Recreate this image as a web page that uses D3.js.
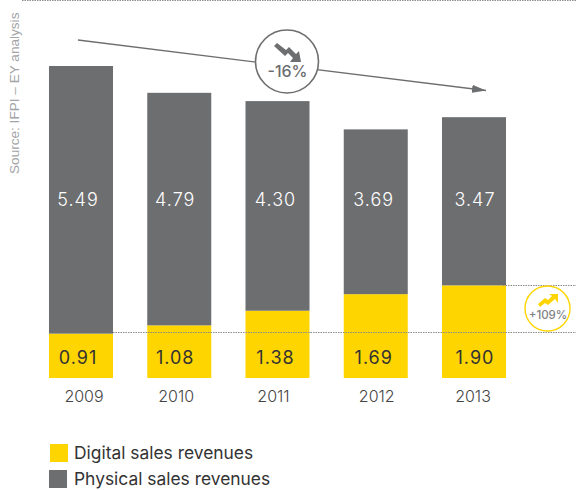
<!DOCTYPE html>
<html><head><meta charset="utf-8">
<script src="https://cdn.jsdelivr.net/npm/d3@7/dist/d3.min.js"></script>
<style>html,body{margin:0;padding:0;background:#fff}svg{display:block}text{font-family:"Inter",sans-serif;font-weight:300}</style>
</head><body><svg id="c" width="576" height="490"></svg>
<script>
const years = ["2009","2010","2011","2012","2013"];
const digitalValues = [0.91,1.08,1.38,1.72,1.90];
const physicalValues = [5.49,4.77,4.30,3.38,3.45];
const digitalLabels = ["0.91","1.08","1.38","1.69","1.90"];
const physicalLabels = ["5.49","4.79","4.30","3.69","3.47"];
const legendItems = ["Digital sales revenues","Physical sales revenues"];

const YELLOW="#ffd500", GREY="#6d6e70";
const svg=d3.select("#c");
const x=d3.scaleBand().domain(years).range([49,506]).paddingInner(1-64/98.25).paddingOuter(0);
const y=d3.scaleLinear().domain([0,1]).range([378,329.25]);
const labelShift=[-3,-4,-2,-2,1];
const yearShift=[3,-3,-4,1,-1];

svg.append("defs").append("marker").attr("id","ah").attr("viewBox","0 0 14 8").attr("refX",14).attr("refY",4)
 .attr("markerUnits","userSpaceOnUse").attr("markerWidth",14).attr("markerHeight",8).attr("orient","auto")
 .append("path").attr("d","M0,0L14,4L0,8Z").attr("fill",GREY);

const dotted=(x1,x2,yy)=>svg.append("line").attr("x1",x1).attr("x2",x2).attr("y1",yy).attr("y2",yy)
 .attr("stroke","#8a8b8d").attr("stroke-width",1).attr("stroke-dasharray","1.5 1");
dotted(22,576,0.5);
dotted(503,576,285.5);

const g=svg.append("g");
g.selectAll(".d").data(years).join("rect").attr("x",d=>x(d)).attr("width",x.bandwidth())
 .attr("y",(d,i)=>y(digitalValues[i])).attr("height",(d,i)=>y(0)-y(digitalValues[i])).attr("fill",YELLOW);
g.selectAll(".p").data(years).join("rect").attr("x",d=>x(d)).attr("width",x.bandwidth())
 .attr("y",(d,i)=>y(digitalValues[i]+physicalValues[i])).attr("height",(d,i)=>y(0)-y(physicalValues[i])).attr("fill",GREY);
dotted(113,576,332.5);

g.selectAll(".pl").data(physicalLabels).join("text").attr("x",(d,i)=>x(years[i])+32+labelShift[i]).attr("y",206)
 .attr("text-anchor","middle").attr("font-size",18).attr("letter-spacing",1).attr("fill","#fff").text(d=>d);
g.selectAll(".dl").data(digitalLabels).join("text").attr("x",(d,i)=>x(years[i])+32+labelShift[i]).attr("y",364)
 .attr("text-anchor","middle").attr("font-size",18).attr("letter-spacing",1).style("font-weight",400).attr("fill","#333").text(d=>d);
g.selectAll(".yl").data(years).join("text").attr("x",(d,i)=>x(d)+32+yearShift[i]).attr("y",402)
 .attr("text-anchor","middle").attr("font-size",16).attr("fill","#444").text(d=>d);

svg.append("line").attr("x1",78).attr("y1",40).attr("x2",486).attr("y2",90.5)
 .attr("stroke",GREY).attr("stroke-width",1.3).attr("marker-end","url(#ah)");
svg.append("circle").attr("cx",287).attr("cy",61.5).attr("r",31.5).attr("fill","#fff").attr("stroke",GREY).attr("stroke-width",1.6);
svg.append("path").attr("d","M274,46 L277,43 L286,50 L289,47 L296,54 L299,51 L301,62 L290,62 L293,58 L288,53 L285,56Z").attr("fill",GREY);
svg.append("text").attr("x",287.5).attr("y",77).attr("text-anchor","middle").attr("font-size",16).style("font-weight",500).attr("fill",GREY).text("-16%");
svg.append("circle").attr("cx",547.5).attr("cy",308.5).attr("r",22.5).attr("fill","#fff").attr("stroke",YELLOW).attr("stroke-width",1.4);
svg.append("path").attr("d","M540,307 L538,304 L545,298 L548,300 L552,296 L549,294 L558,294 L558,303 L555,299 L548,305 L545,303Z").attr("fill",YELLOW);
svg.append("text").attr("x",548).attr("y",319).attr("text-anchor","middle").attr("font-size",11.5).style("font-weight",500).attr("fill","#808184").text("+109%");

svg.append("text").attr("transform","translate(19,174) rotate(-90)").style("font-family","'Liberation Sans',sans-serif").style("font-weight",400).attr("font-size",13.6).attr("fill","#a3a4a6").text("Source: IFPI – EY analysis");

const lg=svg.selectAll(".lg").data(legendItems).join("g");
lg.append("rect").attr("x",(d,i)=>i?49:50).attr("y",(d,i)=>i?470:444).attr("width",18).attr("height",18).attr("fill",(d,i)=>i?GREY:YELLOW);
lg.append("text").attr("x",74).attr("y",(d,i)=>i?485:459).attr("font-size",17.4).style("font-weight",400).attr("fill","#333").text(d=>d);
</script></body></html>
